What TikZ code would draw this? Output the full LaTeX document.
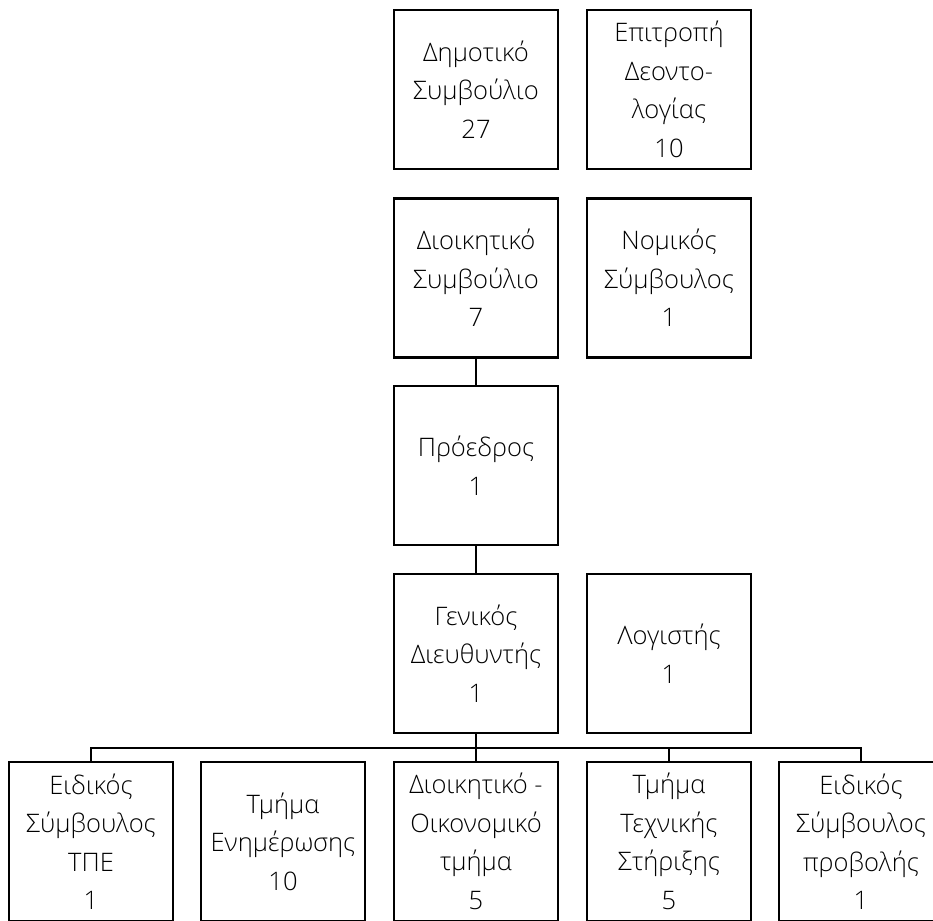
\documentclass[tikz,border=0pt]{standalone}
\usepackage{fontspec}
\setmainfont{Open Sans}[UprightFont=* Light]
\usepackage{tikz}

\begin{document}
\begin{tikzpicture}
		[x=1pt,y=1pt,every node/.style={unitbox},
		unitbox/.style={shape=rectangle, draw, line width=2.6pt, minimum width=164pt, minimum height=159pt, inner sep=0pt, align=center, font=\fontsize{25.5}{38.5}\selectfont},
		link/.style={line width=2.6pt}]
		\useasboundingbox (0,0) rectangle (933,-920);
		% top of the chart
		\node (dimos) at (476,-89.5) {Δημοτικό\\Συμβούλιο\\27};
		\node (deont) at (669,-89.5) {Επιτροπή\\Δεοντο-\\λογίας\\10};
		\node (dsyb) at (476,-278) {Διοικητικό\\Συμβούλιο\\7};
		\node (nomik) at (669,-278) {Νομικός\\Σύμβουλος\\1};
		\node (pres) at (476,-465.5) {Πρόεδρος\\1};
		\node (gd) at (476,-653.5) {Γενικός\\Διευθυντής\\1};
		\node (logist) at (669,-653.5) {Λογιστής\\1};
		% units
		\node (b1) at (91,-841.5) {Ειδικός\\Σύμβουλος\\ΤΠΕ\\1};
		\node (b2) at (283,-841.5) {Τμήμα\\Ενημέρωσης\\10};
		\node (b3) at (476,-841.5) {Διοικητικό -\\Οικονομικό\\τμήμα\\5};
		\node (b4) at (669,-841.5) {Τμήμα\\Τεχνικής\\Στήριξης\\5};
		\node (b5) at (861,-841.5) {Ειδικός\\Σύμβουλος\\προβολής\\1};
		\coordinate (bus) at (476,-748);
		\foreach \from/\to in {dsyb/pres,pres/gd,gd/bus,bus/b3}
		\draw[link]  (\from) -- (\to);
		\foreach \to in {b1,b4,b5}
		\draw[link]  (bus) -| (\to);
	\end{tikzpicture}
\end{document}
